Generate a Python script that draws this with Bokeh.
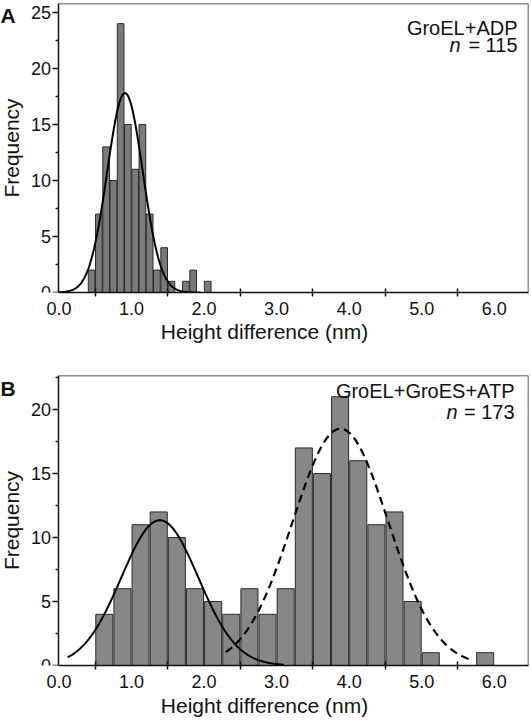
import numpy as np
from bokeh.plotting import figure
from bokeh.layouts import column
from bokeh.models import FixedTicker, Label, Range1d, PrintfTickFormatter, LinearAxis
from bokeh.embed import file_html
from bokeh.resources import INLINE

# ---------------- data ----------------
# Panel A: GroEL+ADP, bin width 0.1 nm
binsA_left = [0.4, 0.5, 0.6, 0.7, 0.8, 0.9, 1.0, 1.1, 1.2, 1.3, 1.4, 1.5, 1.6, 1.7, 1.8, 1.9, 2.0]
countsA = [2, 7, 13, 10, 24, 15, 11, 15, 7, 2, 4, 1, 0, 1, 2, 0, 1]
binA_width = 0.1
# Gaussian fit A: amplitude, mean, sd, drawn from / to
fitA_amp, fitA_mean, fitA_sd = 17.8, 0.91, 0.245
fitA_span = [0.0, 1.95]

# Panel B: GroEL+GroES+ATP, bin width 0.25 nm
binsB_left = [0.5, 0.75, 1.0, 1.25, 1.5, 1.75, 2.0, 2.25, 2.5, 2.75, 3.0, 3.25,
              3.5, 3.75, 4.0, 4.25, 4.5, 4.75, 5.0, 5.25, 5.5, 5.75]
countsB = [4, 6, 11, 12, 10, 6, 5, 4, 6, 4, 6, 17, 15, 21, 16, 11, 12, 5, 1, 0, 0, 1]
binB_width = 0.25
fitB1_amp, fitB1_mean, fitB1_sd = 11.35, 1.39, 0.53
fitB1_span = [0.12, 3.1]
fitB2_amp, fitB2_mean, fitB2_sd = 18.5, 3.88, 0.66
fitB2_span = [2.3, 5.7]

x_ticks = [0, 1, 2, 3, 4, 5, 6]
x_minor = [0.5, 1.5, 2.5, 3.5, 4.5, 5.5]
yA_ticks = [0, 5, 10, 15, 20, 25]
yA_minor = [2.5, 7.5, 12.5, 17.5, 22.5]
yB_ticks = [0, 5, 10, 15, 20]
yB_minor = [2.5, 7.5, 12.5, 17.5, 22.5]

labelA = "GroEL+ADP"
nA = "= 115"
labelB = "GroEL+GroES+ATP"
nB = "= 173"

FONT = "Liberation Sans"
INK = "#111111"
X_START, X_END = -0.806, 6.472


def gauss(amp, mu, sd, span):
    xs = np.linspace(span[0], span[1], 300)
    return xs, amp * np.exp(-0.5 * ((xs - mu) / sd) ** 2)


def border_axis(fixed, bounds):
    ax = LinearAxis(ticker=FixedTicker(ticks=[]), fixed_location=fixed,
                    axis_line_color="#222222", axis_line_width=1.5,
                    major_tick_line_color=None, minor_tick_line_color=None,
                    major_label_text_font_size="0px")
    if bounds is not None:
        ax.bounds = bounds
    return ax


def make_fig(height, top, bottom, yend, yticks, yminor, xlab_standoff):
    p = figure(width=531, height=height, output_backend="svg", toolbar_location=None,
               x_range=Range1d(X_START, X_END), y_range=Range1d(0, yend),
               min_border_left=0, min_border_right=3,
               min_border_top=top, min_border_bottom=bottom)
    p.grid.visible = False
    p.outline_line_color = None
    p.background_fill_color = "white"
    p.border_fill_color = "white"

    xa = p.xaxis[0]
    xa.bounds = (0, X_END)
    xa.ticker = FixedTicker(ticks=x_ticks, minor_ticks=x_minor)
    xa.formatter = PrintfTickFormatter(format="%.1f")
    xa.major_tick_line_color = None
    xa.major_tick_out = 0
    xa.major_tick_in = 0
    xa.minor_tick_in = 4
    xa.minor_tick_out = 4
    xa.minor_tick_line_width = 1.5
    xa.minor_tick_line_color = INK
    xa.axis_line_width = 1.5
    xa.axis_line_color = INK
    xa.major_label_standoff = 5
    xa.major_label_text_font = FONT
    xa.major_label_text_font_size = "18px"
    xa.major_label_text_color = INK
    xa.axis_label = "Height difference (nm)"
    xa.axis_label_text_font = FONT
    xa.axis_label_text_font_size = "21px"
    xa.axis_label_text_font_style = "normal"
    xa.axis_label_text_color = INK
    xa.axis_label_standoff = xlab_standoff

    ya = p.yaxis[0]
    ya.fixed_location = 0
    ya.ticker = FixedTicker(ticks=yticks, minor_ticks=yminor)
    ya.major_tick_out = 6
    ya.major_tick_in = 0
    ya.major_tick_line_width = 1.5
    ya.major_tick_line_color = INK
    ya.minor_tick_out = 3
    ya.minor_tick_in = 0
    ya.minor_tick_line_width = 1.5
    ya.minor_tick_line_color = INK
    ya.axis_line_width = 1.5
    ya.axis_line_color = INK
    ya.major_label_standoff = 2
    ya.major_label_text_font = FONT
    ya.major_label_text_font_size = "18px"
    ya.major_label_text_color = INK
    ya.axis_label = "Frequency"
    ya.axis_label_text_font = FONT
    ya.axis_label_text_font_size = "21px"
    ya.axis_label_text_font_style = "normal"
    ya.axis_label_text_color = INK
    ya.axis_label_standoff = 4

    # frame border on the top and right, drawn as bare axes
    p.add_layout(border_axis(yend, (0, X_END)), "above")
    p.add_layout(border_axis(X_END, None), "right")
    return p


def add_text(p, title, ntext, letter, x_right, y1, y2, n_right):
    common = dict(x_units="screen", y_units="screen", text_font=FONT,
                  text_font_size="20px", text_color=INK,
                  text_baseline="alphabetic")
    p.add_layout(Label(x=x_right, y=y1, text=title, text_align="right", **common))
    p.add_layout(Label(x=x_right, y=y2, text=ntext, text_align="right", **common))
    p.add_layout(Label(x=n_right, y=y2, text="n", text_align="right",
                       text_font_style="italic", **common))
    p.add_layout(Label(x=0, y=277, text=letter, text_align="left",
                       x_units="screen", y_units="screen", text_font=FONT,
                       text_font_size="21px", text_font_style="bold",
                       text_color=INK, text_baseline="alphabetic"))


# ---------------- Panel A ----------------
pA = make_fig(355, 3, 63, 25.8, yA_ticks, yA_minor, 2)
centersA = [b + binA_width / 2 for b in binsA_left]
pA.vbar(x=centersA, width=binA_width * 0.92, top=countsA, bottom=0,
        fill_color="#7a7a7a", line_color="#2a2a2a", line_width=1)
xa_, ya_ = gauss(fitA_amp, fitA_mean, fitA_sd, fitA_span)
pA.line(xa_, ya_, line_color="black", line_width=2)
add_text(pA, labelA, nA, "A", 517, 265, 248, 460)

# ---------------- Panel B ----------------
pB = make_fig(367, 20, 57, 22.66, yB_ticks, yB_minor, 3)
centersB = [b + binB_width / 2 for b in binsB_left]
pB.vbar(x=centersB, width=binB_width * 0.94, top=countsB, bottom=0,
        fill_color="#878787", line_color="#2a2a2a", line_width=1)
xb1, yb1 = gauss(fitB1_amp, fitB1_mean, fitB1_sd, fitB1_span)
pB.line(xb1, yb1, line_color="black", line_width=2)
xb2, yb2 = gauss(fitB2_amp, fitB2_mean, fitB2_sd, fitB2_span)
pB.line(xb2, yb2, line_color="black", line_width=2.2, line_dash="8 5")
add_text(pB, labelB, nB, "B", 514, 275, 254, 457)

layout = column(pA, pB, spacing=0)
open("out.html", "w").write(file_html(layout, INLINE))
